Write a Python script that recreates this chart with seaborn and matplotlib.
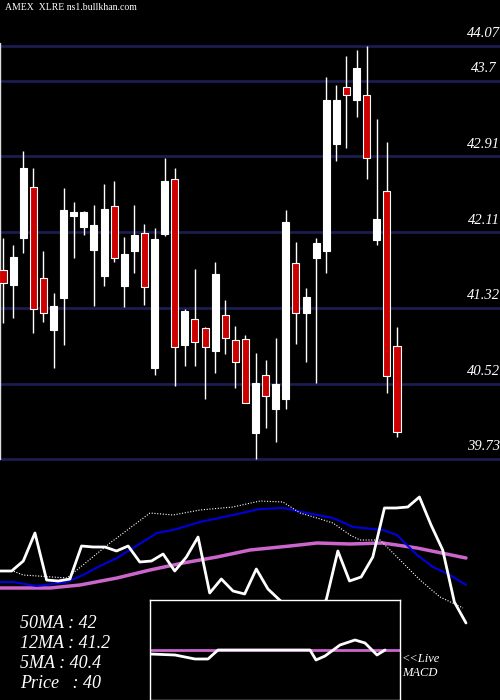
import matplotlib
matplotlib.use("Agg")
import matplotlib.pyplot as plt
import seaborn as sns
import numpy as np

# Candles (open, close, high, low)
opens = [41.72, 41.56, 42.05, 42.59, 41.63, 41.09, 41.42, 42.28, 42.17, 41.93,
         41.65, 42.39, 41.55, 41.92, 42.10, 40.69, 42.09, 42.67, 40.93, 41.20,
         41.11, 40.86, 41.24, 40.98, 40.99, 40.00, 40.61, 40.25, 40.36, 41.79,
         41.26, 41.84, 41.92, 43.04, 43.64, 43.50, 43.55, 42.03, 42.55, 40.92]
closes = [41.58, 41.85, 42.79, 41.31, 41.26, 41.34, 42.35, 42.32, 42.32, 42.19,
          42.36, 41.84, 41.88, 42.08, 41.54, 42.04, 42.65, 40.91, 41.29, 40.96,
          40.91, 41.67, 41.00, 40.75, 40.32, 40.53, 40.39, 40.52, 42.22, 41.26,
          41.43, 42.00, 43.50, 43.50, 43.55, 43.84, 42.89, 42.25, 40.60, 40.01]
highs = [42.05, 41.98, 42.97, 42.79, 41.92, 41.47, 42.58, 42.43, 42.34, 42.40,
         42.62, 42.65, 42.06, 42.40, 42.20, 42.16, 42.89, 42.79, 41.31, 41.73,
         41.12, 41.80, 41.40, 41.13, 41.03, 40.84, 40.77, 41.00, 42.35, 42.01,
         41.53, 42.05, 43.74, 43.66, 43.96, 44.03, 44.07, 43.30, 43.06, 41.12]
lows = [41.16, 41.21, 41.89, 41.05, 41.17, 40.69, 40.93, 41.84, 42.08, 41.34,
        41.55, 41.80, 41.33, 41.68, 41.35, 40.61, 42.07, 40.50, 40.71, 40.71,
        40.36, 40.63, 40.83, 40.48, 40.32, 39.73, 40.06, 39.91, 40.25, 40.94,
        40.75, 40.53, 41.68, 42.86, 43.00, 43.32, 42.67, 41.98, 40.42, 39.96]
price_levels = [44.07, 43.7, 42.91, 42.11, 41.32, 40.52, 39.73]

# Indicator panel (panel units, larger = lower)
osc_vals = [571, 571, 561, 533, 580, 581, 579, 546, 547, 547, 551, 546, 562, 561,
            554, 571, 557, 537, 593, 579, 591, 594, 569, 589, 600, 610, 615, 610,
            600, 551, 581, 577, 557, 508, 508, 507, 497, 525, 550, 602, 623]
dot_x = [0, 13, 23, 67, 110, 150, 173, 200, 233, 260, 283, 300, 317, 333, 350,
         360, 380, 400, 420, 440, 463]
dot_vals = [571, 571, 575, 578, 543, 513, 515, 510, 507, 501, 502, 513, 518,
            523, 535, 540, 540, 560, 580, 597, 608]
blue_x = [0, 13, 37, 67, 83, 100, 117, 133, 157, 173, 200, 233, 260, 283, 307,
          333, 353, 383, 397, 417, 433, 450, 466]
blue_vals = [582, 582, 586, 582, 575, 566, 558, 548, 533, 530, 522, 515, 509,
             508, 513, 518, 527, 530, 535, 555, 567, 575, 585]
mag_x = [0, 50, 80, 117, 150, 183, 217, 250, 290, 317, 350, 383, 417, 466]
mag_vals = [588, 588, 585, 578, 570, 563, 557, 550, 546, 543, 544, 543, 548, 558]
macd_x = [150, 175, 195, 208, 218, 260, 310, 316, 325, 340, 355, 365, 377, 385]
macd_vals = [654, 655, 659, 659, 650, 650, 650, 660, 656, 645, 640, 643, 655, 650]
signal_level = 650
legend_lines = ["50MA : 42", "12MA : 41.2", "5MA : 40.4", "Price   : 40"]

sns.set_style("dark")
plt.rcParams["font.family"] = ["Liberation Serif", "DejaVu Serif"]

fig = plt.figure(figsize=(5, 7), dpi=100, facecolor="black")

# Price panel over the full figure
ax = fig.add_axes([0, 0, 1, 1])
ax.set_facecolor("black")
ax.set_xlim(-0.3, 49.2)
ax.set_ylim(44.553 - 7.356, 44.553)
ax.axis("off")
for lvl in price_levels:
    ax.axhline(lvl, color="#1c1c50", lw=2, zorder=1)
    ax.text(47.6, lvl + 0.06, f"{lvl:g}", color="white", fontsize=10.5,
            style="italic", ha="center", va="bottom")
ax.plot([-0.27, -0.27], [39.73, 44.1], color="#dddddd", lw=1)

idx = np.arange(len(opens))
o, c, h, l = map(np.array, (opens, closes, highs, lows))
ax.vlines(idx, l, h, color="white", lw=1, zorder=2)
up = c >= o
ax.bar(idx[up], np.maximum(c - o, 0.03)[up], bottom=o[up], width=0.7,
       color="white", edgecolor="white", lw=0.8, zorder=3)
ax.bar(idx[~up], (o - c)[~up], bottom=c[~up], width=0.7,
       color="#cc0000", edgecolor="white", lw=0.8, zorder=3)
ax.text(0.01, 0.995, "AMEX  XLRE ns1.bullkhan.com", transform=ax.transAxes,
        color="white", fontsize=7, va="top")

# Indicator panel
ax2 = fig.add_axes([0, 0, 1, 220 / 700])
ax2.patch.set_alpha(0)
ax2.set_xlim(0, 500)
ax2.set_ylim(700, 480)
ax2.axis("off")
osc_x = np.arange(len(osc_vals)) * 11.65
sns.lineplot(x=mag_x, y=mag_vals, color="#cc66cc", lw=2.5, ax=ax2)
sns.lineplot(x=blue_x, y=blue_vals, color="#0000dd", lw=1.5, ax=ax2)
sns.lineplot(x=dot_x, y=dot_vals, color="white", lw=0.8, ls=(0, (1, 1.5)), ax=ax2)
sns.lineplot(x=osc_x, y=osc_vals, color="white", lw=2, ax=ax2)
for i, t in enumerate(legend_lines):
    ax2.text(20, 623 + i * 20, t, color="white", fontsize=13, style="italic",
             va="center")
ax2.text(402, 666, "<<Live\nMACD", color="white", fontsize=9, style="italic",
         va="center", linespacing=1.3)

# MACD inset
ax3 = fig.add_axes([150 / 500, 0, 250 / 500, 100 / 700])
ax3.set_facecolor("black")
ax3.set_xlim(150, 400)
ax3.set_ylim(700, 600)
ax3.set_xticks([])
ax3.set_yticks([])
for s in ax3.spines.values():
    s.set_color("white")
    s.set_linewidth(1)
ax3.axhline(signal_level, color="#cc66cc", lw=2)
sns.lineplot(x=macd_x, y=macd_vals, color="white", lw=2, ax=ax3)

fig.savefig("out.png", dpi=100, facecolor="black")
